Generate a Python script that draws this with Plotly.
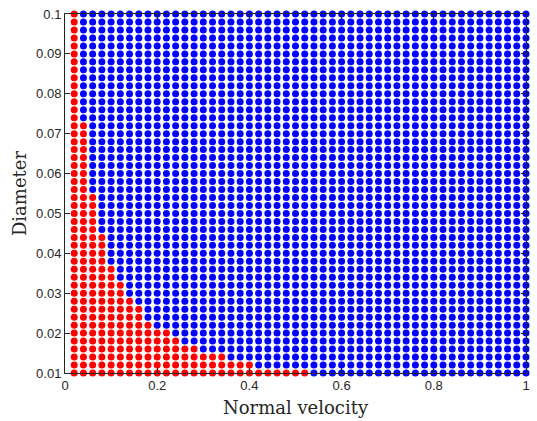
import plotly.graph_objects as go

# Grid of normal velocities (x) and diameters (y)
velocity = [0.02, 0.04, 0.06, 0.08, 0.10, 0.12, 0.14, 0.16, 0.18, 0.20,
            0.22, 0.24, 0.26, 0.28, 0.30, 0.32, 0.34, 0.36, 0.38, 0.40,
            0.42, 0.44, 0.46, 0.48, 0.50, 0.52, 0.54, 0.56, 0.58, 0.60,
            0.62, 0.64, 0.66, 0.68, 0.70, 0.72, 0.74, 0.76, 0.78, 0.80,
            0.82, 0.84, 0.86, 0.88, 0.90, 0.92, 0.94, 0.96, 0.98, 1.00]
diameter = [0.010, 0.012, 0.014, 0.016, 0.018, 0.020, 0.022, 0.024, 0.026, 0.028,
            0.030, 0.032, 0.034, 0.036, 0.038, 0.040, 0.042, 0.044, 0.046, 0.048,
            0.050, 0.052, 0.054, 0.056, 0.058, 0.060, 0.062, 0.064, 0.066, 0.068,
            0.070, 0.072, 0.074, 0.076, 0.078, 0.080, 0.082, 0.084, 0.086, 0.088,
            0.090, 0.092, 0.094, 0.096, 0.098, 0.100]
# Largest velocity classified "red" for each diameter row
critical_velocity = [0.52, 0.40, 0.34, 0.28, 0.24, 0.22, 0.18, 0.16, 0.16, 0.14,
                     0.12, 0.12, 0.10, 0.10, 0.08, 0.08, 0.08, 0.08, 0.06, 0.06,
                     0.06, 0.06, 0.06, 0.04, 0.04, 0.04, 0.04, 0.04, 0.04, 0.04,
                     0.04, 0.04, 0.02, 0.02, 0.02, 0.02, 0.02, 0.02, 0.02, 0.02,
                     0.02, 0.02, 0.02, 0.02, 0.02, 0.02]

x_ticks = [0, 0.2, 0.4, 0.6, 0.8, 1]
x_ticklabels = ["0", "0.2", "0.4", "0.6", "0.8", "1"]
y_ticks = [0.01, 0.02, 0.03, 0.04, 0.05, 0.06, 0.07, 0.08, 0.09, 0.1]
y_ticklabels = ["0.01", "0.02", "0.03", "0.04", "0.05", "0.06", "0.07", "0.08", "0.09", "0.1"]

rx, ry, bx, by = [], [], [], []
for d, vc in zip(diameter, critical_velocity):
    for v in velocity:
        if v <= vc + 1e-9:
            rx.append(v); ry.append(d)
        else:
            bx.append(v); by.append(d)

fig = go.Figure()
fig.add_trace(go.Scatter(x=bx, y=by, mode="markers", cliponaxis=False,
                         marker=dict(color="#0000ff", size=7, line=dict(width=0))))
fig.add_trace(go.Scatter(x=rx, y=ry, mode="markers", cliponaxis=False,
                         marker=dict(color="#ff0000", size=7, line=dict(width=0))))

axis_common = dict(showgrid=False, zeroline=False, showline=True, mirror="ticks",
                   linecolor="#262626", linewidth=1, ticks="inside", ticklen=5,
                   tickcolor="#262626",
                   tickfont=dict(family="Liberation Sans, Arial", size=13, color="#262626"))

fig.update_layout(
    width=537, height=421,
    margin=dict(l=65, r=7, t=9, b=44),
    paper_bgcolor="white", plot_bgcolor="white",
    showlegend=False,
    xaxis=dict(range=[0, 1], tickvals=x_ticks, ticktext=x_ticklabels,
               title=dict(text="Normal velocity", standoff=9,
                          font=dict(family="DejaVu Serif", size=18, color="#262626")),
               **axis_common),
    yaxis=dict(range=[0.01, 0.1], tickvals=y_ticks, ticktext=y_ticklabels,
               title=dict(text="Diameter", standoff=4,
                          font=dict(family="DejaVu Serif", size=18, color="#262626")),
               **axis_common),
)

fig.write_html("out.html", config={"displayModeBar": False},
               post_script="document.body.style.margin='0';document.body.style.overflow='hidden';")
